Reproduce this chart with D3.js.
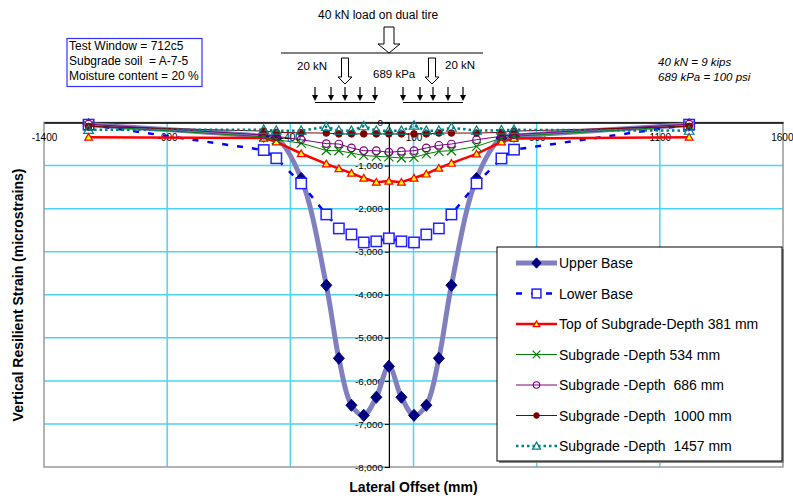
<!DOCTYPE html>
<html>
<head>
<meta charset="utf-8">
<script src="https://cdn.jsdelivr.net/npm/d3@7"></script>
<style>
  html, body { margin: 0; padding: 0; background: #fff; }
  svg { display: block; font-family: "Liberation Sans", Arial, sans-serif; }
  text.pre { white-space: pre; }
</style>
</head>
<body>
<svg id="chart" width="793" height="500"></svg>
<script>
// ---------- DATA ----------
const offsets = [-1219, -508, -457, -356, -254, -203, -152, -102, -51, 0, 51, 102, 152, 203, 254, 356, 457, 508, 1219];
const upperBase = [-50, -320, -360, -1300, -3780, -5476, -6566, -6800, -6380, -5661, -6380, -6800, -6566, -5476, -3780, -1300, -360, -320, -50];
const lowerBase = [-50, -640, -830, -1415, -2135, -2460, -2600, -2785, -2760, -2690, -2760, -2785, -2600, -2460, -2135, -1415, -835, -630, -50];
const depth381 = [-340, -360, -450, -720, -960, -1070, -1175, -1290, -1385, -1360, -1385, -1290, -1195, -1060, -945, -730, -450, -370, -340];
const depth534 = [-80, -330, -400, -480, -650, -655, -710, -765, -785, -800, -825, -810, -730, -670, -655, -555, -360, -320, -80];
const depth686 = [-40, -290, -320, -400, -490, -500, -590, -655, -655, -690, -670, -655, -590, -530, -500, -400, -320, -280, -40];
const depth1000 = [-90, -200, -230, -240, -245, -265, -265, -265, -265, -265, -265, -265, -265, -245, -245, -245, -230, -200, -90];
const depth1457 = [-170, -170, -190, -190, -100, -190, -190, -85, -190, -190, -190, -70, -190, -190, -120, -190, -180, -170, -190];
const seriesNames = ["Upper Base", "Lower Base", "Top of Subgrade-Depth 381 mm", "Subgrade -Depth 534 mm",
  "Subgrade -Depth  686 mm", "Subgrade -Depth  1000 mm", "Subgrade -Depth  1457 mm"];
const xTicks = [-1400, -900, -400, 100, 600, 1100, 1600];
const yTicks = [0, -1000, -2000, -3000, -4000, -5000, -6000, -7000, -8000];
const infoLines = ["Test Window = 712c5", "Subgrade soil  = A-7-5", "Moisture content = 20 %"];
const unitLines = ["40 kN = 9 kips", "689 kPa = 100 psi"];

// ---------- STYLES ----------
const styles = [
  {line: "#8080c0", width: 5, dash: null, marker: "diamond", mstroke: "#000080", mfill: "#000080", size: 5.5, curve: d3.curveCatmullRom.alpha(0.5)},
  {line: "#0000ff", width: 2.5, dash: "6,9", marker: "square", mstroke: "#2222ff", mfill: "#ffffff", size: 5.2, curve: d3.curveLinear},
  {line: "#ff0000", width: 2.5, dash: null, marker: "triangle", mstroke: "#ff0000", mfill: "#ffff00", size: 26, curve: d3.curveLinear},
  {line: "#008000", width: 1, dash: null, marker: "x", mstroke: "#008000", mfill: "none", size: 4.5, curve: d3.curveLinear},
  {line: "#800080", width: 1, dash: null, marker: "circle", mstroke: "#800080", mfill: "none", size: 3.8, curve: d3.curveLinear},
  {line: "#800000", width: 1, dash: null, marker: "dot", mstroke: "#800000", mfill: "#800000", size: 3.3, curve: d3.curveLinear},
  {line: "#008080", width: 2.5, dash: "2.5,3", marker: "otriangle", mstroke: "#008080", mfill: "none", size: 40, curve: d3.curveLinear}
];
const allSeries = [upperBase, lowerBase, depth381, depth534, depth686, depth1000, depth1457];

const svg = d3.select("#chart");
const L = 44, R = 783, T = 122.5, B = 467;
const x = d3.scaleLinear().domain([-1400, 1600]).range([L, R]);
const y = d3.scaleLinear().domain([0, -8000]).range([T, B]);
const gridColor = "#4dd3f5";

// gridlines
svg.append("g").selectAll("line").data(xTicks.slice(1, -1)).join("line")
  .attr("x1", d => x(d)).attr("x2", d => x(d)).attr("y1", T).attr("y2", B)
  .attr("stroke", gridColor).attr("stroke-width", 1.5);
svg.append("g").selectAll("line").data(yTicks.slice(1, -1)).join("line")
  .attr("x1", L).attr("x2", R).attr("y1", d => y(d)).attr("y2", d => y(d))
  .attr("stroke", gridColor).attr("stroke-width", 1.5);

// plot border
svg.append("rect").attr("x", L).attr("y", T).attr("width", R - L).attr("height", B - T)
  .attr("fill", "none").attr("stroke", "#999").attr("stroke-width", 1.5);

// x axis at y=0 (top)
const fmtY = v => d3.format(",")(v).replace("\u2212", "-");
const xAxis = d3.axisBottom(x).tickValues(xTicks).tickSize(0).tickFormat(d => String(d));
const gx = svg.append("g").attr("transform", `translate(0,${y(0)})`).call(xAxis);
gx.select(".domain").attr("stroke", "#000").attr("stroke-width", 1.5);
gx.selectAll("text").attr("font-size", 10).attr("fill", "#000").attr("dy", "0.36em")
  .attr("font-family", "Liberation Sans, Arial, sans-serif").attr("y", 14.5);
gx.selectAll(".tick").filter(d => d === 1600).select("text").attr("text-anchor", "end").attr("x", 10);

// y axis at x=0
const yAxis = d3.axisLeft(y).tickValues(yTicks).tickSize(4).tickFormat(fmtY);
const gy = svg.append("g").attr("transform", `translate(${x(0)},0)`).call(yAxis);
gy.select(".domain").attr("stroke", "#000").attr("stroke-width", 1.2);
gy.selectAll(".tick line").attr("stroke", "#000");
gy.selectAll("text").attr("font-size", 9.8).attr("fill", "#000").attr("x", -6)
  .attr("font-family", "Liberation Sans, Arial, sans-serif");

// markers
function drawMarker(g, st, cx, cy, scale) {
  const k = scale || 1;
  if (st.marker === "diamond") {
    const hw = st.size * k, hh = st.size * 1.1 * k;
    g.append("path").attr("d", `M${cx},${cy - hh}L${cx + hw},${cy}L${cx},${cy + hh}L${cx - hw},${cy}Z`)
      .attr("fill", st.mfill).attr("stroke", st.mstroke).attr("stroke-width", 1);
  } else if (st.marker === "square") {
    const h = st.size * k;
    g.append("rect").attr("x", cx - h).attr("y", cy - h).attr("width", 2 * h).attr("height", 2 * h)
      .attr("fill", st.mfill).attr("stroke", st.mstroke).attr("stroke-width", 1.5);
  } else if (st.marker === "triangle" || st.marker === "otriangle") {
    g.append("path").attr("d", d3.symbol().type(d3.symbolTriangle).size(st.size * k * k)())
      .attr("transform", `translate(${cx},${cy + 0.8})`)
      .attr("fill", st.mfill).attr("stroke", st.mstroke).attr("stroke-width", 1.2);
  } else if (st.marker === "x") {
    const s = st.size * k;
    g.append("path").attr("d", `M${cx - s},${cy - s}L${cx + s},${cy + s}M${cx - s},${cy + s}L${cx + s},${cy - s}`)
      .attr("stroke", st.mstroke).attr("stroke-width", 1.2).attr("fill", "none");
  } else if (st.marker === "circle") {
    g.append("circle").attr("cx", cx).attr("cy", cy).attr("r", st.size * k)
      .attr("fill", "none").attr("stroke", st.mstroke).attr("stroke-width", 1.2);
  } else if (st.marker === "dot") {
    g.append("circle").attr("cx", cx).attr("cy", cy).attr("r", st.size * k)
      .attr("fill", st.mfill).attr("stroke", st.mstroke);
  }
}

// series
allSeries.forEach((vals, i) => {
  const st = styles[i];
  const g = svg.append("g");
  const pts = offsets.map((o, k) => [x(o), y(vals[k])]);
  g.append("path").attr("d", d3.line().curve(st.curve)(pts))
    .attr("fill", "none").attr("stroke", st.line).attr("stroke-width", st.width)
    .attr("stroke-dasharray", st.dash).attr("stroke-linejoin", "round");
  pts.forEach(p => drawMarker(g, st, p[0], p[1]));
});

// legend
const lg = svg.append("g");
lg.append("rect").attr("x", 499).attr("y", 249).attr("width", 285).attr("height", 214).attr("fill", "#888");
lg.append("rect").attr("x", 497).attr("y", 247).attr("width", 285).attr("height", 214)
  .attr("fill", "#fff").attr("stroke", "#000").attr("stroke-width", 1);
seriesNames.forEach((name, i) => {
  const st = styles[i];
  const cy = 263 + i * 30.5;
  lg.append("line").attr("x1", 516).attr("x2", 557).attr("y1", cy).attr("y2", cy)
    .attr("stroke", st.line).attr("stroke-width", st.width).attr("stroke-dasharray", st.dash);
  drawMarker(lg, st, 536.5, cy, 0.85);
  lg.append("text").attr("class", "pre").attr("x", 559).attr("y", cy).attr("dy", "0.36em")
    .attr("font-size", 14).attr("fill", "#000").text(name);
});

// axis titles
svg.append("text").attr("x", (L + R) / 2).attr("y", 487).attr("dy", "0.36em").attr("text-anchor", "middle")
  .attr("font-size", 14).attr("font-weight", "bold").text("Lateral Offset (mm)");
svg.append("text").attr("transform", "translate(18,295) rotate(-90)").attr("dy", "0.36em").attr("text-anchor", "middle")
  .attr("font-size", 14).attr("font-weight", "bold").text("Vertical Resilient Strain (microstrains)");

// info box
svg.append("rect").attr("x", 67).attr("y", 38.5).attr("width", 135).attr("height", 48)
  .attr("fill", "#fff").attr("stroke", "#3333ff").attr("stroke-width", 1.2);
infoLines.forEach((t, i) => {
  svg.append("text").attr("class", "pre").attr("x", 69).attr("y", 45.5 + i * 15.3).attr("dy", "0.36em")
    .attr("font-size", 12).text(t);
});
unitLines.forEach((t, i) => {
  svg.append("text").attr("x", 658).attr("y", 62 + i * 15).attr("dy", "0.36em")
    .attr("font-size", 11.5).attr("font-style", "italic").text(t);
});

// load diagram
const ann = svg.append("g");
ann.append("text").attr("x", 318).attr("y", 15).attr("dy", "0.36em")
  .attr("font-size", 12).text("40 kN load on dual tire");
function hollowArrow(cx, top, headY, tip, sw, hw) {
  const pts = [[cx - sw, top], [cx + sw, top], [cx + sw, headY], [cx + hw, headY], [cx, tip], [cx - hw, headY], [cx - sw, headY]];
  ann.append("path").attr("d", d3.line()(pts) + "Z").attr("fill", "#fff").attr("stroke", "#000").attr("stroke-width", 1);
}
hollowArrow(389, 27, 44, 53, 5, 11);
ann.append("line").attr("x1", 281).attr("x2", 483).attr("y1", 53).attr("y2", 53).attr("stroke", "#000");
hollowArrow(345, 58, 77, 84, 3.5, 7);
hollowArrow(432, 58, 77, 84, 3.5, 7);
ann.append("text").attr("x", 297).attr("y", 66).attr("dy", "0.36em").attr("font-size", 11.5).text("20 kN");
ann.append("text").attr("x", 445).attr("y", 65).attr("dy", "0.36em").attr("font-size", 11.5).text("20 kN");
ann.append("text").attr("x", 373).attr("y", 74).attr("dy", "0.36em").attr("font-size", 11.5).text("689 kPa");
const smallArrowsX = [[315, 331, 345, 360, 375], [403, 420, 433, 448, 463]];
smallArrowsX.forEach(grp => {
  ann.append("line").attr("x1", grp[0]).attr("x2", grp[grp.length - 1]).attr("y1", 102.5).attr("y2", 102.5)
    .attr("stroke", "#000");
  grp.forEach(ax => {
    ann.append("line").attr("x1", ax).attr("x2", ax).attr("y1", 87).attr("y2", 96).attr("stroke", "#000").attr("stroke-width", 1.2);
    ann.append("path").attr("d", `M${ax - 3},${95}L${ax + 3},${95}L${ax},${101}Z`).attr("fill", "#000");
  });
});
</script>
</body>
</html>
